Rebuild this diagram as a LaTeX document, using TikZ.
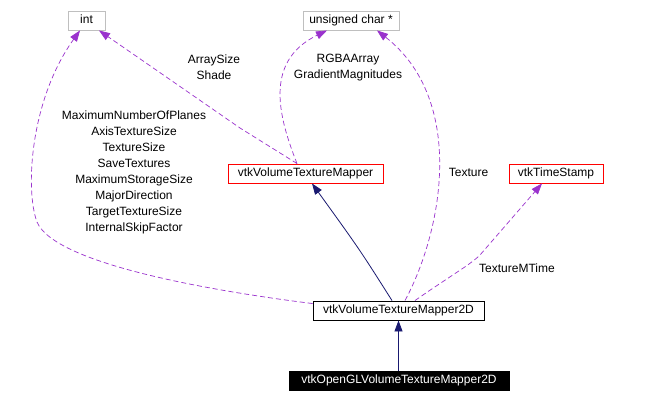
\documentclass[tikz,border=0pt]{standalone}
\usepackage{fontspec}
\setmainfont{Liberation Sans}
\usetikzlibrary{arrows.meta,calc}
\definecolor{edgepurple}{HTML}{9A32CD}
\definecolor{edgenavy}{HTML}{191970}
\definecolor{boxgray}{HTML}{BFBFBF}
\begin{document}
\begin{tikzpicture}[x=1pt,y=-1pt,
  every node/.style={font=\fontsize{12}{16}\selectfont, inner sep=0pt, align=center},
  cls/.style={draw, line width=0.9pt, minimum height=19pt, text height=9pt, text depth=2.5pt},
  extcls/.style={cls, draw=boxgray},
  redcls/.style={cls, draw=red},
  usage/.style={draw=edgepurple, dashed, dash pattern=on 5pt off 3pt, line width=0.7pt,
    -{Triangle[length=11pt,width=8pt,fill=edgepurple]}},
  inherit/.style={draw=edgenavy, line width=0.8pt,
    -{Triangle[length=11pt,width=8pt,fill=edgenavy]}},
  lbl/.style={font=\fontsize{12}{16}\selectfont}
]
\useasboundingbox (0,0) rectangle (653,402);
\fill[white] (0,0) rectangle (653,402);

\node[extcls, minimum width=37pt] (int) at (86.5,20.5) {int};
\node[extcls, minimum width=96pt] (uchar) at (351,20.5) {unsigned char *};
\node[redcls, minimum width=155pt] (vtm) at (305.5,173.5) {vtkVolumeTextureMapper};
\node[redcls, minimum width=94pt] (ts) at (556,173.5) {vtkTimeStamp};
\node[cls, draw=black, minimum width=171pt] (vtm2d) at (398.5,310.5) {vtkVolumeTextureMapper2D};
\node[cls, draw=black, fill=black, text=white, minimum width=220pt] (ogl) at (399,380.5) {vtkOpenGLVolumeTextureMapper2D};

% inheritance
\draw[inherit] (ogl.north -| vtm2d.south) -- (vtm2d.south);
\draw[inherit] ([xshift=-6.5pt]vtm2d.north) .. controls (360,250) .. ([xshift=6.5pt]vtm.south);

% usage edges
\draw[usage] ([xshift=-8.5pt]vtm.north) -- (240,128) -- ([xshift=12.5pt]int.south);
\draw[usage] ([xshift=-8.5pt]vtm.north) .. controls (280,120) and (262,62) .. ([xshift=-24pt]uchar.south);
\draw[usage] ([xshift=6.5pt]vtm2d.north) .. controls (443,230) and (466,100) .. ([xshift=26pt]uchar.south);
\draw[usage] ($(vtm2d.north west)!0.15!(vtm2d.south west)$) .. controls (220,292) and (55,265) .. (37,222) .. controls (25,190) and (30,100) .. ([xshift=-6.5pt]int.south);
\draw[usage] ([xshift=16.5pt]vtm2d.north) .. controls (450,276) and (470,265) .. (480,255) -- ([xshift=-14pt]ts.south);

% labels
\node[lbl] (l1) at (214,67.5) {ArraySize\\Shade};
\node[lbl] (l2) at (348,67.5) {RGBAArray\\GradientMagnitudes};
\node[lbl] (l3) at (468.5,172.5) {Texture};
\node[lbl] (l4) at (517,268.5) {TextureMTime};
\node[lbl] (l5) at (134,172.5) {MaximumNumberOfPlanes\\AxisTextureSize\\TextureSize\\SaveTextures\\MaximumStorageSize\\MajorDirection\\TargetTextureSize\\InternalSkipFactor};
\end{tikzpicture}
\end{document}
